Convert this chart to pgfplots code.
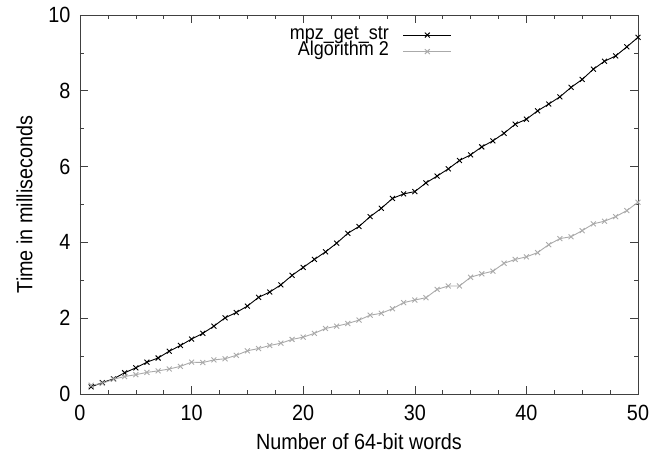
\documentclass[border=0pt]{standalone}
\usepackage{fontspec}
\setmainfont{Liberation Sans}[FakeStretch=0.9]
\usepackage{pgfplots}
\usepackage{pgfplotstable}
\pgfplotsset{compat=1.18}
\pgfplotstableread{
x y
1 0.19
2 0.30
3 0.40
4 0.56
5 0.69
6 0.84
7 0.95
8 1.13
9 1.28
10 1.45
11 1.60
12 1.79
13 2.01
14 2.15
15 2.32
16 2.55
17 2.69
18 2.88
19 3.13
20 3.34
21 3.55
22 3.75
23 3.98
24 4.24
25 4.42
26 4.68
27 4.90
28 5.16
29 5.28
30 5.34
31 5.57
32 5.75
33 5.94
34 6.16
35 6.31
36 6.52
37 6.68
38 6.88
39 7.12
40 7.25
41 7.47
42 7.65
43 7.84
44 8.09
45 8.30
46 8.57
47 8.78
48 8.92
49 9.16
50 9.41
}\mpz
\pgfplotstableread{
x y
1 0.23
2 0.28
3 0.39
4 0.46
5 0.51
6 0.57
7 0.61
8 0.66
9 0.73
10 0.84
11 0.83
12 0.90
13 0.93
14 1.02
15 1.14
16 1.20
17 1.28
18 1.34
19 1.44
20 1.50
21 1.60
22 1.73
23 1.79
24 1.86
25 1.95
26 2.08
27 2.13
28 2.25
29 2.41
30 2.48
31 2.54
32 2.76
33 2.85
34 2.85
35 3.08
36 3.17
37 3.24
38 3.45
39 3.55
40 3.62
41 3.73
42 3.94
43 4.10
44 4.15
45 4.31
46 4.49
47 4.56
48 4.68
49 4.84
50 5.06
}\algtwo
\definecolor{lgray}{RGB}{170,170,170}
\begin{document}
\begin{tikzpicture}
\begin{axis}[
  width=558pt, height=379pt, scale only axis,
  xmin=0, xmax=50, ymin=0, ymax=10,
  xtick={0,10,...,50}, ytick={0,2,...,10},
  minor x tick num=3, minor y tick num=1,
  tick align=inside, major tick length=8pt, minor tick length=4pt,
  axis line style={black!75, line width=0.8pt},
  every tick/.style={black!75, line width=0.6pt},
  tick label style={font=\fontsize{22}{24}\selectfont},
  xticklabel style={yshift=-8pt},
  yticklabel style={xshift=-6pt},
  label style={font=\fontsize{22}{24}\selectfont},
  /pgf/number format/assume math mode=true,
  xlabel={Number of 64-bit words},
  ylabel={Time in milliseconds},
  xlabel style={yshift=-6pt},
  ylabel style={yshift=9pt},
  legend plot pos=right,
  legend cell align=right,
  legend style={at={(axis cs:33.6,9.72)}, anchor=north east, draw=none, fill=none,
    font=\fontsize{20}{20}\selectfont, row sep=2pt,
    nodes={inner sep=0pt, text height=11.5pt, text depth=3pt},
    /tikz/every odd column/.append style={column sep=14pt}},
  legend image code/.code={\draw[mark repeat=2,mark phase=2] plot coordinates {(0pt,0pt) (24pt,0pt) (48pt,0pt)};},
]
\addplot[black, line width=0.9pt, mark=x, mark size=3.5pt, mark options={line width=0.9pt}] table[x=x,y=y] {\mpz};
\addlegendentry{mpz\_get\_str}
\addplot[lgray, line width=0.9pt, mark=x, mark size=3.5pt, mark options={line width=0.9pt}] table[x=x,y=y] {\algtwo};
\addlegendentry{Algorithm 2}
\end{axis}
\pgfresetboundingbox
\path ([shift={(-80pt,-63pt)}]current axis.south west) rectangle ([shift={(25pt,15pt)}]current axis.north east);
\end{tikzpicture}
\end{document}
